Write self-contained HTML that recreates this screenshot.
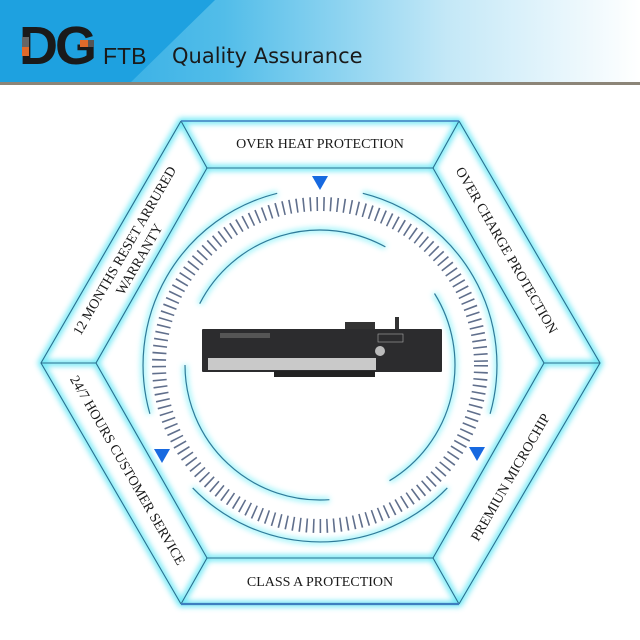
<!DOCTYPE html>
<html><head><meta charset="utf-8"><style>
html,body{margin:0;padding:0;background:#fff;}
svg{display:block}
</style></head><body>
<svg width="640" height="640" viewBox="0 0 640 640" xmlns="http://www.w3.org/2000/svg">
<defs>
<linearGradient id="hg" x1="0" y1="0" x2="1" y2="0">
<stop offset="0" stop-color="#1fa3e2"/><stop offset="0.35" stop-color="#52bde9"/><stop offset="0.7" stop-color="#c4e8f7"/><stop offset="1" stop-color="#ffffff"/>
</linearGradient>
<filter id="glow" x="-20%" y="-20%" width="140%" height="140%"><feGaussianBlur stdDeviation="3"/></filter>
</defs>
<rect x="0" y="0" width="640" height="83" fill="url(#hg)"/>
<polygon points="0,0 215,0 130,83 0,83" fill="#1ea1e0"/>
<rect x="0" y="82" width="640" height="3" fill="#8c8578"/>
<text x="19" y="64" font-family="Liberation Sans, sans-serif" font-weight="bold" font-size="54" fill="#1a1a1a" letter-spacing="-3">DG</text>
<rect x="22" y="37" width="7" height="10" fill="#666"/>
<rect x="22" y="47" width="7" height="9" fill="#e06a2a"/>
<rect x="80" y="40" width="8" height="7" fill="#e06a2a"/>
<rect x="88" y="40" width="6" height="7" fill="#555"/>
<text x="103" y="64" font-family="Liberation Sans, sans-serif" font-size="23" fill="#1a1a1a">FTB</text>
<text x="172" y="63" font-family="DejaVu Sans, sans-serif" font-size="21" fill="#1a1a1a">Quality Assurance</text>

<g filter="url(#glow)" stroke="#5fe6f5" stroke-width="6" fill="none" opacity="0.9">
<polygon points="181,121 459,121 600,363 459,604 181,604 41,363"/>
<polygon points="207,168 433,168 544,363 433,558 207,558 96,363"/>
<path d="M181,121 L207,168 M459,121 L433,168 M600,363 L544,363 M459,604 L433,558 M181,604 L207,558 M41,363 L96,363"/>
</g>
<g filter="url(#glow)" stroke="#7ff0f8" stroke-width="5" fill="none" opacity="0.8">
<path d="M362.8,193.3 A177,177 0 0 1 490.1,413.8"/>
<path d="M447.3,487.9 A177,177 0 0 1 192.7,487.9"/>
<path d="M149.9,413.8 A177,177 0 0 1 277.2,193.3"/>
<path d="M199.7,303.7 A135,135 0 0 1 385.4,246.9"/>
<path d="M434.5,293.5 A135,135 0 0 1 389.5,480.7"/>
<path d="M329.4,499.7 A135,135 0 0 1 185,365"/>
</g>

<g stroke="#2a6f8f" stroke-width="1.1" fill="none">
<polygon points="207,168 433,168 544,363 433,558 207,558 96,363"/>
<path d="M181,121 L207,168 M459,121 L433,168 M600,363 L544,363 M459,604 L433,558 M181,604 L207,558 M41,363 L96,363"/>
<path d="M459,121 L600,363 L459,604 M181,604 L41,363 L181,121"/>
</g>
<path d="M181,121 L459,121" stroke="#3d7fc0" stroke-width="1.6"/>
<path d="M181,604 L459,604" stroke="#3d7fc0" stroke-width="2.2"/>

<g stroke="#2f7a99" stroke-width="1.2" fill="none">
<path d="M362.8,193.3 A177,177 0 0 1 490.1,413.8"/>
<path d="M447.3,487.9 A177,177 0 0 1 192.7,487.9"/>
<path d="M149.9,413.8 A177,177 0 0 1 277.2,193.3"/>
<path d="M199.7,303.7 A135,135 0 0 1 385.4,246.9"/>
<path d="M434.5,293.5 A135,135 0 0 1 389.5,480.7"/>
<path d="M329.4,499.7 A135,135 0 0 1 185,365"/>
</g>
<circle cx="320" cy="365" r="161" fill="none" stroke="#4f5f80" stroke-width="14" stroke-dasharray="1.6 5.2" opacity="0.9"/>

<polygon points="312,176 328,176 320,190" fill="#1769e0"/>
<polygon points="154,449 170,449 162,463" fill="#1769e0"/>
<polygon points="469,447 485,447 477,461" fill="#1769e0"/>

<rect x="345" y="322" width="30" height="9" fill="#333"/>
<rect x="395" y="317" width="4" height="12" fill="#333"/>
<rect x="202" y="329" width="240" height="43" rx="1" fill="#2c2c2e"/>
<rect x="208" y="358" width="168" height="12" fill="#c9c9c9"/>
<rect x="274" y="371" width="101" height="6" fill="#222"/>
<rect x="220" y="333" width="50" height="5" fill="#555"/>
<rect x="378" y="334" width="25" height="8" fill="none" stroke="#aaa" stroke-width="0.6"/>
<circle cx="380" cy="351" r="5" fill="#bbb"/>

<g font-family="Liberation Serif, serif" font-size="14" fill="#1a1a1a" text-anchor="middle">
<text x="320" y="148">OVER HEAT PROTECTION</text>
<text x="320" y="586">CLASS A PROTECTION</text>
<text transform="translate(507,250) rotate(60)" y="5">OVER CHARGE PROTECTION</text>
<text transform="translate(510,477) rotate(-60)" y="5">PREMIUN MICROCHIP</text>
<text transform="translate(128,470) rotate(60)" y="5">24/7 HOURS CUSTOMER SERVICE</text>
<text transform="translate(132,255) rotate(-60)"><tspan x="0" y="-4">12 MONTHS RESET ARRURED</tspan><tspan x="0" y="13">WARRANTY</tspan></text>
</g>
</svg>
</body></html>
